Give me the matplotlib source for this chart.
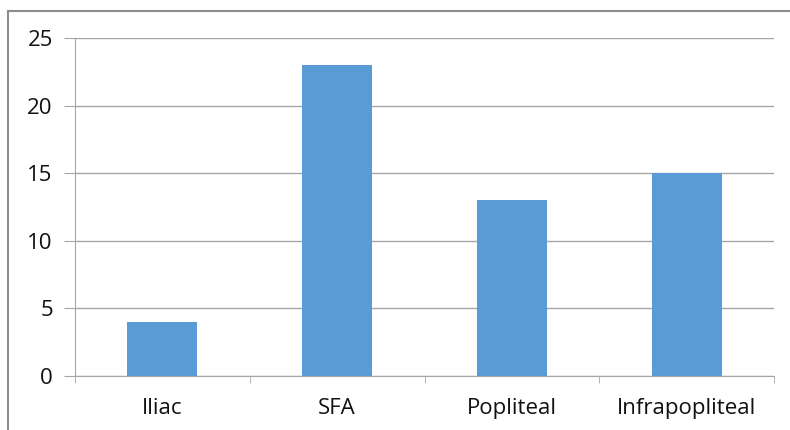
import matplotlib
matplotlib.use("Agg")
import matplotlib.pyplot as plt
from matplotlib.patches import Rectangle
import numpy as np

# data
categories = ["Iliac", "SFA", "Popliteal", "Infrapopliteal"]
values = [4, 23, 13, 15]
yticks = [0, 5, 10, 15, 20, 25]

plt.rcParams['font.family'] = ['Open Sans', 'DejaVu Sans']

fig = plt.figure(figsize=(7.9, 4.3), dpi=100)
ax = fig.add_axes([75/790, 54/430, 699/790, 338/430])

x = np.arange(len(categories))
ax.bar(x, values, width=0.4, color="#5B9BD5", zorder=3)

ax.set_xlim(-0.5, len(categories) - 0.5)
ax.set_ylim(0, 25)
ax.set_yticks(yticks)
ax.yaxis.grid(True, color="#A6A6A6", linewidth=1.0, zorder=0)

ax.set_xticks(x)
ax.set_xticklabels(categories)
ax.set_xticks(np.arange(len(categories) + 1) - 0.5, minor=True)
ax.tick_params(axis="x", which="major", length=0, pad=16, labelsize=16, colors="#111111")
ax.tick_params(axis="x", which="minor", length=5, color="#A6A6A6", direction="out")
ax.tick_params(axis="y", length=8, color="#A6A6A6", pad=8, labelsize=16, labelcolor="#111111")

for s in ["top", "right"]:
    ax.spines[s].set_visible(False)
for s in ["left", "bottom"]:
    ax.spines[s].set_color("#A6A6A6")

# outer chart border
fig.patches.append(Rectangle((8/790, -0.1), 1.2, (430 - 11.5)/430 + 0.1,
                             transform=fig.transFigure, fill=False,
                             edgecolor="#8C8C8C", linewidth=1.5))

fig.savefig("out.png", dpi=100)
